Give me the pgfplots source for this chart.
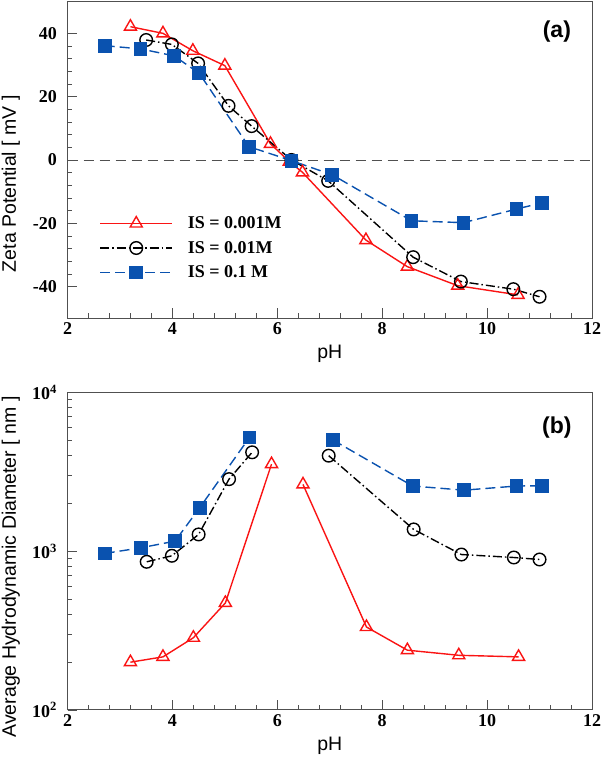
\documentclass[border=0pt]{standalone}
\usepackage{fontspec}
\setmainfont{Liberation Serif}
\setsansfont{Liberation Sans}
\usepackage{pgfplots}
\pgfplotsset{compat=1.18}
\definecolor{myblue}{RGB}{10,82,175}
\definecolor{myred}{RGB}{250,20,20}
\definecolor{axgray}{RGB}{80,80,80}

\pgfplotsset{
  common/.style={
    scale only axis,
    width=524.5pt,
    xmin=2, xmax=12,
    xtick={2,4,6,8,10,12},
    xticklabels={2,4,6,8,10,12},
    minor x tick num=4,
    xtick pos=bottom, ytick pos=left,
    tick align=inside,
    major tick length=10pt, minor tick length=5pt,
    axis line style={axgray, line width=1pt},
    every tick/.style={axgray, line width=0.8pt},
    every minor tick/.style={axgray, line width=0.8pt},
    tick label style={font=\fontsize{18}{18}\selectfont\rmfamily\bfseries},
    xticklabel style={yshift=-1pt},
    yticklabel style={xshift=-7pt},
    label style={font=\fontsize{19.5}{19.5}\selectfont\sffamily},
    xlabel={pH},
    xlabel style={at={(axis description cs:0.5,-0.113)}, anchor=center},
    clip=false,
  },
  redS/.style={myred, line width=1.4pt, mark=triangle, mark size=7pt, mark options={solid, fill=white, line width=1.4pt}},
  blackS/.style={black, line width=1.4pt, dash pattern=on 9pt off 3pt on 1.5pt off 3pt, mark=o, mark size=6.3pt, mark options={solid, fill=white, line width=1.4pt}},
  blueS/.style={myblue, line width=1.4pt, dash pattern=on 10pt off 5pt, mark=square*, mark size=6.2pt, mark options={solid, fill=myblue}},
}

\begin{document}
\begin{tikzpicture}[x=1pt,y=1pt]
\useasboundingbox (0,0) rectangle (600,763);
% ---------- panel (a)
\begin{axis}[common,
  at={(67.5pt,444.7pt)}, anchor=south west,
  height=316.6pt,
  ymin=-50, ymax=50,
  ytick={-40,-20,0,20,40},
  yticklabels={-40,-20,0,20,40},
  minor y tick num=4,
  ylabel={Zeta Potential [ mV ]},
  ylabel style={at={(axis description cs:-0.108,0.425)}, anchor=center},
  legend style={at={(axis cs:2.55,-16.3)}, anchor=north west, draw=none, fill=none,
    font=\fontsize{18}{18}\selectfont\rmfamily\bfseries, row sep=5pt,
    nodes={inner sep=3pt},
    /tikz/every odd column/.append style={column sep=12pt}},
  legend cell align=left,
  legend image code/.code={\draw[mark repeat=2,mark phase=2,#1] plot coordinates {(0pt,0pt) (36pt,0pt) (72pt,0pt)};},
]
\addplot[axgray, line width=0.9pt, dash pattern=on 10pt off 6pt, forget plot] coordinates {(2,0) (12,0)};
\addplot[redS] coordinates {
(3.2,42.1) (3.82,40.0) (4.39,34.5) (5.0,29.8) (5.87,5.1) (6.23,-0.5) (6.48,-3.9) (7.69,-25.3) (8.48,-33.7) (9.44,-39.7) (10.59,-42.6)};
\addlegendentry{IS = 0.001M}
\addplot[blackS] coordinates {
(3.5,37.9) (3.99,36.5) (4.49,30.5) (5.07,17.1) (5.51,10.7) (6.27,0.0) (6.97,-6.6) (8.59,-30.7) (9.5,-38.4) (10.5,-40.8) (11.0,-43.2)};
\addlegendentry{IS = 0.01M}
\addplot[blueS] coordinates {
(2.71,36.1) (3.39,35.1) (4.03,32.9) (4.51,27.4) (5.46,4.2) (6.27,-0.2) (7.05,-4.7) (8.56,-19.2) (9.55,-19.8) (10.56,-15.5) (11.05,-13.5)};
\addlegendentry{IS = 0.1 M}
\node[font=\fontsize{23}{23}\selectfont\sffamily\bfseries] at (axis description cs:0.933,0.905) {(a)};
\end{axis}
% ---------- panel (b)
\begin{axis}[common,
  at={(67.5pt,53pt)}, anchor=south west,
  height=317.7pt,
  ymode=log,
  ymin=100, ymax=10000,
  ytick={100,1000,10000},
  yticklabels={10\textsuperscript{2},10\textsuperscript{3},10\textsuperscript{4}},
  ylabel={Average Hydrodynamic Diameter [ nm ]},
  ylabel style={at={(axis description cs:-0.108,0.45)}, anchor=center},
]
\addplot[redS] coordinates {(3.2,200) (3.82,216) (4.4,285) (5.01,472) (5.89,3530)};
\addplot[redS] coordinates {(6.49,2630) (7.7,333) (8.48,238) (9.46,221) (10.6,216)};
\addplot[blackS] coordinates {(3.51,857) (3.99,935) (4.5,1274) (5.08,2840) (5.52,4190)};
\addplot[blackS] coordinates {(6.98,3990) (8.6,1370) (9.51,952) (10.51,912) (11.0,886)};
\addplot[blueS] coordinates {(2.71,967) (3.4,1050) (4.05,1156) (4.52,1875) (5.47,5200)};
\addplot[blueS] coordinates {(7.06,5010) (8.58,2570) (9.56,2420) (10.56,2570) (11.05,2580)};
\node[font=\fontsize{23}{23}\selectfont\sffamily\bfseries] at (axis description cs:0.933,0.89) {(b)};
\end{axis}
\end{tikzpicture}
\end{document}
